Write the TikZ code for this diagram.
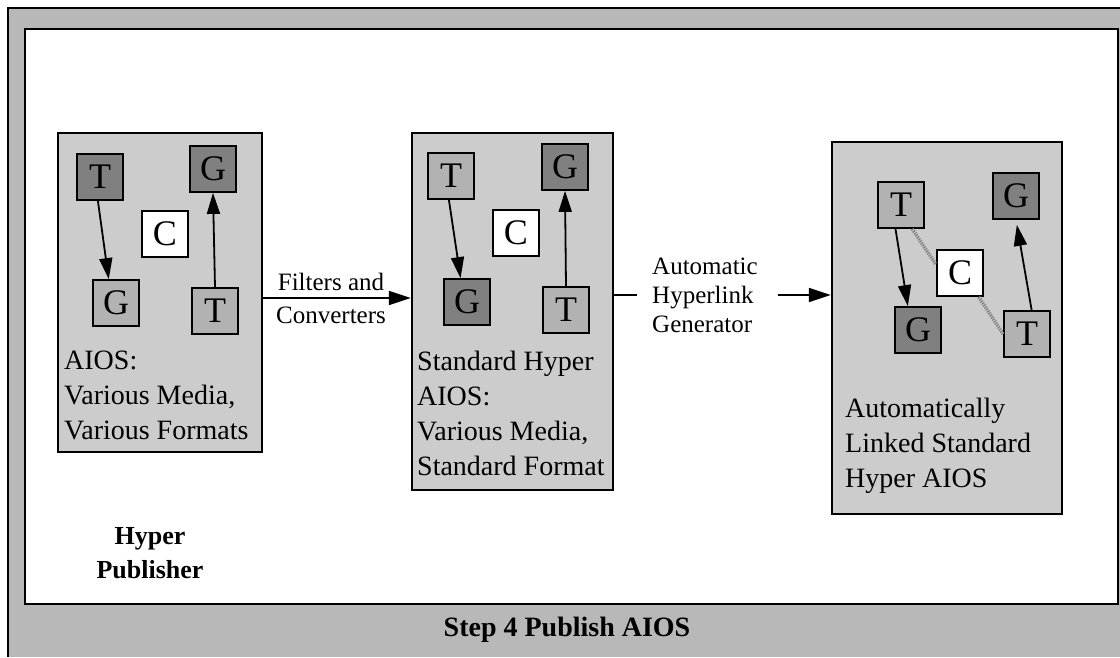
\documentclass[tikz,border=0pt]{standalone}
\usepackage{fontspec}
\setmainfont{Liberation Serif}
\usetikzlibrary{arrows.meta}

\tikzset{
  band/.style={fill=black!28},
  sheet/.style={fill=white, draw=black, line width=2.4pt},
  panel/.style={draw=black, fill=black!20, line width=2.4pt, inner sep=0pt},
  sq/.style={draw=black, line width=1.8pt, minimum size=46pt, inner sep=0pt,
             font=\fontsize{36}{36}\selectfont},
  sqdark/.style={sq, fill=black!50},
  sqlight/.style={sq, fill=black!30},
  sqwhite/.style={sq, fill=white},
  link/.style={line width=1.8pt, -{Triangle[length=21pt,width=13pt]}},
  autolink/.style={line width=3.4pt, draw=black!50, dash pattern=on 1.3pt off 1.1pt},
  flow/.style={line width=1.8pt},
  flowarrow/.style={flow, -{Triangle[length=22pt,width=14pt]}},
  caption/.style={align=left, anchor=north west, inner sep=0pt,
                  font=\fontsize{28}{35}\selectfont},
  steplabel/.style={inner sep=0pt, font=\fontsize{25}{33}\selectfont}
}

\begin{document}
\begin{tikzpicture}[x=1pt, y=-1pt]
\useasboundingbox (0,0) rectangle (1120,657);

% outer stippled band and white working sheet
\fill[band] (8,8) rectangle (1120,657);
\draw[line width=1.2pt] (8,657) -- (8,8) -- (1120,8);
\draw[sheet] (25,29) rectangle (1118,604);

% ---------- panel 1: raw AIOS ----------
\node[panel, minimum width=204pt, minimum height=319pt] (p1) at (160,292.5) {};
\node[sqdark]  (p1t1) at (100,177) {T};
\node[sqdark]  (p1g1) at (213,169) {G};
\node[sqwhite] (p1c)  at (165,234) {C};
\node[sqlight] (p1g2) at (116,303) {G};
\node[sqlight] (p1t2) at (215,311) {T};
\draw[link] (p1t1.265) -- (p1g2.107);
\draw[link] (p1t2.north) -- (p1g1.south);
\node[caption] (p1txt) at (64,351) {AIOS:\\Various Media,\\Various Formats};

% ---------- panel 2: standard hyper AIOS ----------
\node[panel, minimum width=201pt, minimum height=357pt] (p2) at (512.5,311.5) {};
\node[sqlight] (p2t1) at (451,176) {T};
\node[sqdark]  (p2g1) at (565,167) {G};
\node[sqwhite] (p2c)  at (516,233) {C};
\node[sqdark]  (p2g2) at (467,302) {G};
\node[sqlight] (p2t2) at (566,310) {T};
\draw[link] (p2t1.265) -- (p2g2.105);
\draw[link] (p2t2.north) -- (p2g1.south);
\node[caption] (p2txt) at (417,351) {Standard Hyper\\AIOS:\\Various Media,\\Standard Format};

% ---------- panel 3: automatically linked AIOS ----------
\node[panel, minimum width=230pt, minimum height=372pt] (p3) at (947,328) {};
\node[sqlight] (p3t1) at (901,205) {T};
\node[sqdark]  (p3g1) at (1016,196) {G};
\node[sqwhite] (p3c)  at (960,273) {C};
\node[sqdark]  (p3g2) at (918,330) {G};
\node[sqlight] (p3t2) at (1027,334) {T};
\draw[autolink] (p3t1.-65) -- (p3c.161);
\draw[autolink] (p3c.-52) -- (p3t2.west);
\draw[link] (p3t1.257) -- (p3g2.113);
\draw[link, shorten >=5pt] (p3t2.79) -- (p3g1.south);
\node[caption] (p3txt) at (845,398) {Automatically\\Linked Standard\\Hyper AIOS};

% ---------- processing steps between panels ----------
\node[steplabel, align=center] (filt) at (331,298) {Filters and\\Converters};
\draw[flowarrow] (p1.east |- filt) -- (p2.west |- filt);

\node[steplabel, align=left, anchor=west, font=\fontsize{25}{29}\selectfont]
  (gen) at (652,295) {Automatic\\Hyperlink\\Generator};
\draw[flow, shorten >=15pt] (p2.east |- gen) -- (gen.west);
\draw[flowarrow, shorten <=20pt] (gen.east) -- (p3.west |- gen);

% ---------- titles ----------
\node[align=center, font=\fontsize{26}{34}\bfseries\selectfont] (tool) at (150,553)
  {Hyper\\Publisher};
\node[font=\fontsize{28}{28}\bfseries\selectfont] (step) at (567,630) {Step 4 Publish AIOS};
\end{tikzpicture}
\end{document}
